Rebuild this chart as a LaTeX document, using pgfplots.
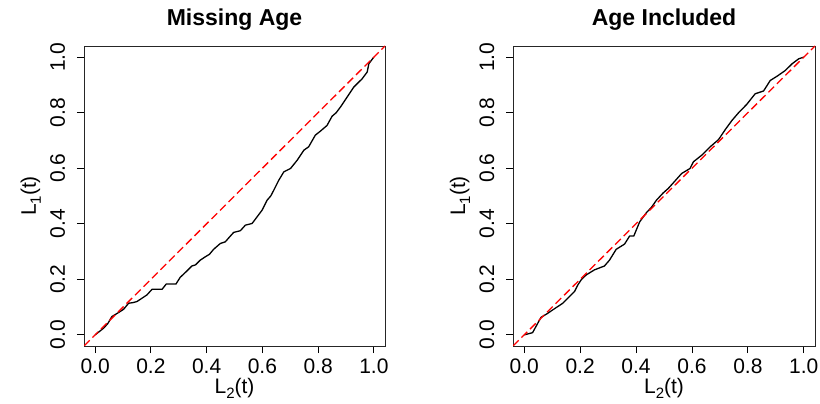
\documentclass[border=0pt]{standalone}
\usepackage{fontspec}
\setmainfont{Liberation Sans}
\usepackage{pgfplots}
\pgfplotsset{compat=1.18}

\newcommand{\Lsub}[1]{L\raisebox{-5bp}{\fontsize{15bp}{15bp}\selectfont #1}(t)}

\pgfplotsset{
  lorenz/.style={
    scale only axis, height=300bp,
    xmin=-0.04, xmax=1.04, ymin=-0.04, ymax=1.04,
    xtick={0,0.2,0.4,0.6,0.8,1}, ytick={0,0.2,0.4,0.6,0.8,1},
    xticklabels={0.0,0.2,0.4,0.6,0.8,1.0},
    yticklabels={0.0,0.2,0.4,0.6,0.8,1.0},
    xtick pos=bottom, ytick pos=left,
    tick align=outside, major tick length=7bp,
    axis line style={line width=0.8bp, black!85},
    tick style={line width=0.8bp, black},
    font=\fontsize{21bp}{25bp}\selectfont,
    ticklabel style={inner sep=0pt},
    xticklabel style={anchor=base, yshift=-20bp},
    yticklabel style={xshift=-12bp, rotate=90, anchor=base},
    every axis title/.style={at={(0.5,1)}, anchor=base, yshift=20bp,
      font=\bfseries\fontsize{23bp}{27bp}\selectfont},
    every axis x label/.style={at={(axis description cs:0.5,0)}, anchor=base, yshift=-47bp, inner sep=0pt},
    every axis y label/.style={at={(axis description cs:0,0.5)}, xshift=-48bp, rotate=90, anchor=base, inner sep=0pt},
    xlabel={\Lsub{2}}, ylabel={\Lsub{1}},
    clip=true,
  },
  curve/.style={black, line width=1.3bp, line join=round},
  diag/.style={red, line width=1.3bp, dash pattern=on 8bp off 4bp},
}

\begin{document}
\begin{tikzpicture}
\useasboundingbox (0,0) rectangle (820bp,404bp);

% Without the age covariate
\begin{axis}[lorenz, width=301bp, at={(84bp,58bp)}, anchor=south west, title={Missing Age}]
\addplot[curve] coordinates {
 (0,0) (0.015,0.012) (0.03,0.024) (0.045,0.04) (0.06,0.066) (0.08,0.078)
 (0.102,0.092) (0.12,0.114) (0.135,0.116) (0.15,0.12) (0.165,0.13) (0.186,0.144)
 (0.204,0.164) (0.24,0.164) (0.255,0.183) (0.29,0.183) (0.305,0.207) (0.325,0.226)
 (0.347,0.248) (0.36,0.252) (0.377,0.269) (0.395,0.281) (0.41,0.29) (0.425,0.308)
 (0.449,0.329) (0.467,0.335) (0.48,0.35) (0.497,0.369) (0.521,0.375) (0.539,0.395)
 (0.563,0.401) (0.581,0.425) (0.599,0.449) (0.617,0.485) (0.63,0.5) (0.641,0.521)
 (0.659,0.557) (0.677,0.587) (0.701,0.599) (0.725,0.629) (0.749,0.665) (0.766,0.677)
 (0.79,0.719) (0.81,0.735) (0.832,0.754) (0.85,0.787) (0.865,0.8) (0.88,0.82)
 (0.904,0.856) (0.928,0.892) (0.958,0.922) (0.976,0.946) (0.982,0.976) (1,1)
};
\addplot[diag] coordinates {(-0.04,-0.04) (1.04,1.04)};
\end{axis}

% With the age covariate
\begin{axis}[lorenz, width=302bp, at={(513bp,58bp)}, anchor=south west, title={Age Included}]
\addplot[curve] coordinates {
 (0,0) (0.03,0.008) (0.042,0.03) (0.06,0.063) (0.08,0.075) (0.102,0.09)
 (0.12,0.102) (0.138,0.114) (0.162,0.138) (0.18,0.156) (0.192,0.18) (0.205,0.2)
 (0.222,0.216) (0.251,0.234) (0.287,0.248) (0.305,0.269) (0.329,0.308) (0.359,0.327)
 (0.377,0.356) (0.392,0.356) (0.413,0.407) (0.437,0.44) (0.455,0.459) (0.473,0.485)
 (0.497,0.511) (0.515,0.527) (0.533,0.547) (0.563,0.581) (0.593,0.599) (0.605,0.623)
 (0.635,0.647) (0.665,0.677) (0.695,0.703) (0.719,0.739) (0.743,0.772) (0.766,0.799)
 (0.796,0.83) (0.826,0.868) (0.856,0.878) (0.88,0.916) (0.904,0.931) (0.934,0.952)
 (0.958,0.976) (0.982,0.994) (1,1)
};
\addplot[diag] coordinates {(-0.04,-0.04) (1.04,1.04)};
\end{axis}
\end{tikzpicture}
\end{document}
